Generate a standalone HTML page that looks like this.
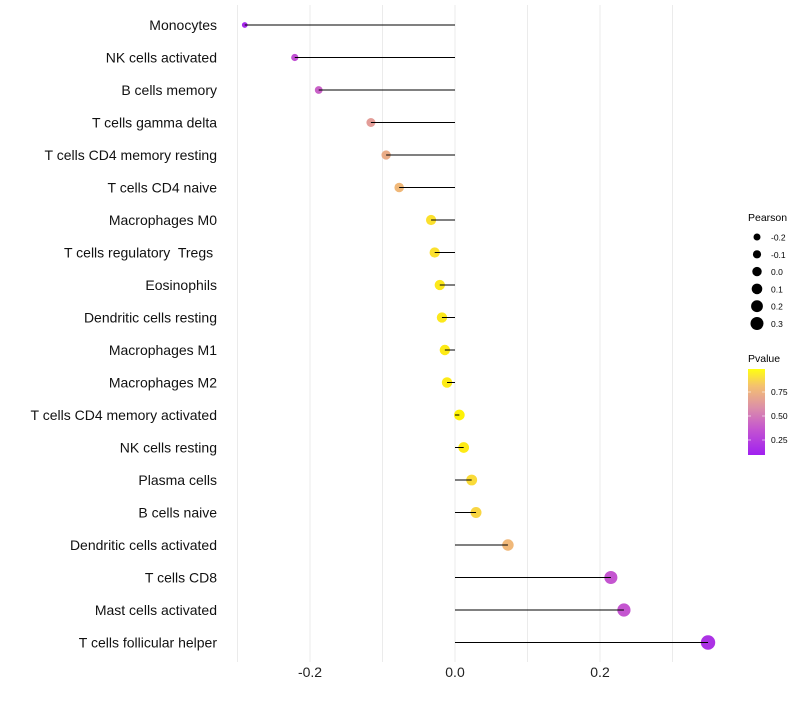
<!DOCTYPE html>
<html><head><meta charset="utf-8"><style>
body{margin:0;background:#fff;font-family:"Liberation Sans",sans-serif}
text{white-space:pre}
</style></head><body>
<svg id="chart" width="800" height="700" xmlns="http://www.w3.org/2000/svg" font-family="Liberation Sans, sans-serif">
<defs><linearGradient id="pg" x1="0" y1="1" x2="0" y2="0">
<stop offset="0" stop-color="#a020f0"/><stop offset="0.3" stop-color="#c455d0"/><stop offset="0.55" stop-color="#dc8fa8"/><stop offset="0.8" stop-color="#f4c070"/><stop offset="1" stop-color="#ffff10"/></linearGradient></defs>
<g id="grid"></g><g id="points"></g><g id="marks"></g><g id="labels"></g>
</svg>
<script>
const categories=["Monocytes","NK cells activated","B cells memory","T cells gamma delta","T cells CD4 memory resting","T cells CD4 naive","Macrophages M0","T cells regulatory  Tregs ","Eosinophils","Dendritic cells resting","Macrophages M1","Macrophages M2","T cells CD4 memory activated","NK cells resting","Plasma cells","B cells naive","Dendritic cells activated","T cells CD8","Mast cells activated","T cells follicular helper"];
const pearson=[-0.29,-0.221,-0.188,-0.116,-0.095,-0.077,-0.033,-0.028,-0.021,-0.018,-0.014,-0.011,0.006,0.012,0.023,0.029,0.073,0.215,0.233,0.349];
const pvalue=[0.05,0.27,0.35,0.62,0.7,0.76,0.92,0.92,0.95,0.95,0.96,0.96,0.99,0.96,0.9,0.88,0.76,0.3,0.3,0.1];
const xTicks=[-0.2,0,0.2];
const xTickLabels=["-0.2","0.0","0.2"];
const sizeLegend=[-0.2,-0.1,0.0,0.1,0.2,0.3];
const NS="http://www.w3.org/2000/svg";
const x=v=>455+v*725;
const y=i=>25+i*32.5;
const r=v=>Math.sqrt(Math.max(2.25,28+68*v));
const stops=[[0,[160,32,240]],[0.3,[196,85,208]],[0.55,[220,143,168]],[0.8,[244,192,112]],[1,[255,245,0]]];
function col(p){for(let k=1;k<stops.length;k++){if(p<=stops[k][0]){const a=stops[k-1],b=stops[k],t=(p-a[0])/(b[0]-a[0]);return "rgb("+a[1].map((c,j)=>Math.round(c+(b[1][j]-c)*t)).join(",")+")";}}return "rgb(255,245,0)";}
function mk(tag,at,par){const e=document.createElementNS(NS,tag);for(const k in at)e.setAttribute(k,at[k]);document.getElementById(par)?document.getElementById(par).appendChild(e):par.appendChild(e);return e;}
for(let k=-3;k<=3;k++){const g=k/10;const l=mk("line",{x1:x(g),x2:x(g),y1:5,y2:662,stroke:"#ebebeb","stroke-width":1},"grid");

}
categories.forEach((c,i)=>{
const d=mk("circle",{cx:x(pearson[i]),cy:y(i),r:r(pearson[i]),fill:col(pvalue[i])},"points");


const s=mk("line",{x1:x(0),x2:x(pearson[i]),y1:y(i),y2:y(i),stroke:"#000","stroke-width":1},"marks");


const t=mk("text",{x:217,y:y(i)+5,"text-anchor":"end","font-size":14,fill:"#111"},"labels");
t.textContent=c;


});
xTicks.forEach((v,i)=>{const t=mk("text",{x:x(v),y:677,"text-anchor":"middle","font-size":14,fill:"#222"},"labels");t.textContent=xTickLabels[i];

});
const svg=document.getElementById("chart");
const lg=mk("g",{},svg);


const pt=mk("text",{x:748,y:221,"font-size":10.5},lg);pt.textContent="Pearson";


sizeLegend.forEach((v,i)=>{const cy=237+i*17.3;
const c=mk("circle",{cx:757,cy:cy,r:3.5+(v+0.2)*6,fill:"#000"},lg);


const t=mk("text",{x:771,y:cy+3.5,"font-size":8.5},lg);t.textContent=v.toFixed(1);

});
const vt=mk("text",{x:748,y:362,"font-size":10.5},lg);vt.textContent="Pvalue";


const bar=mk("rect",{x:748,y:369,width:17,height:86,fill:"url(#pg)"},lg);


[["0.75",392],["0.50",416],["0.25",440]].forEach(([l,yy])=>{
mk("line",{x1:748,x2:751,y1:yy,y2:yy,stroke:"#fff","stroke-width":0.6},lg);mk("line",{x1:762,x2:765,y1:yy,y2:yy,stroke:"#fff","stroke-width":0.6},lg);
const t=mk("text",{x:771,y:yy+3,"font-size":8.5},lg);t.textContent=l;

});
</script>
</body></html>
